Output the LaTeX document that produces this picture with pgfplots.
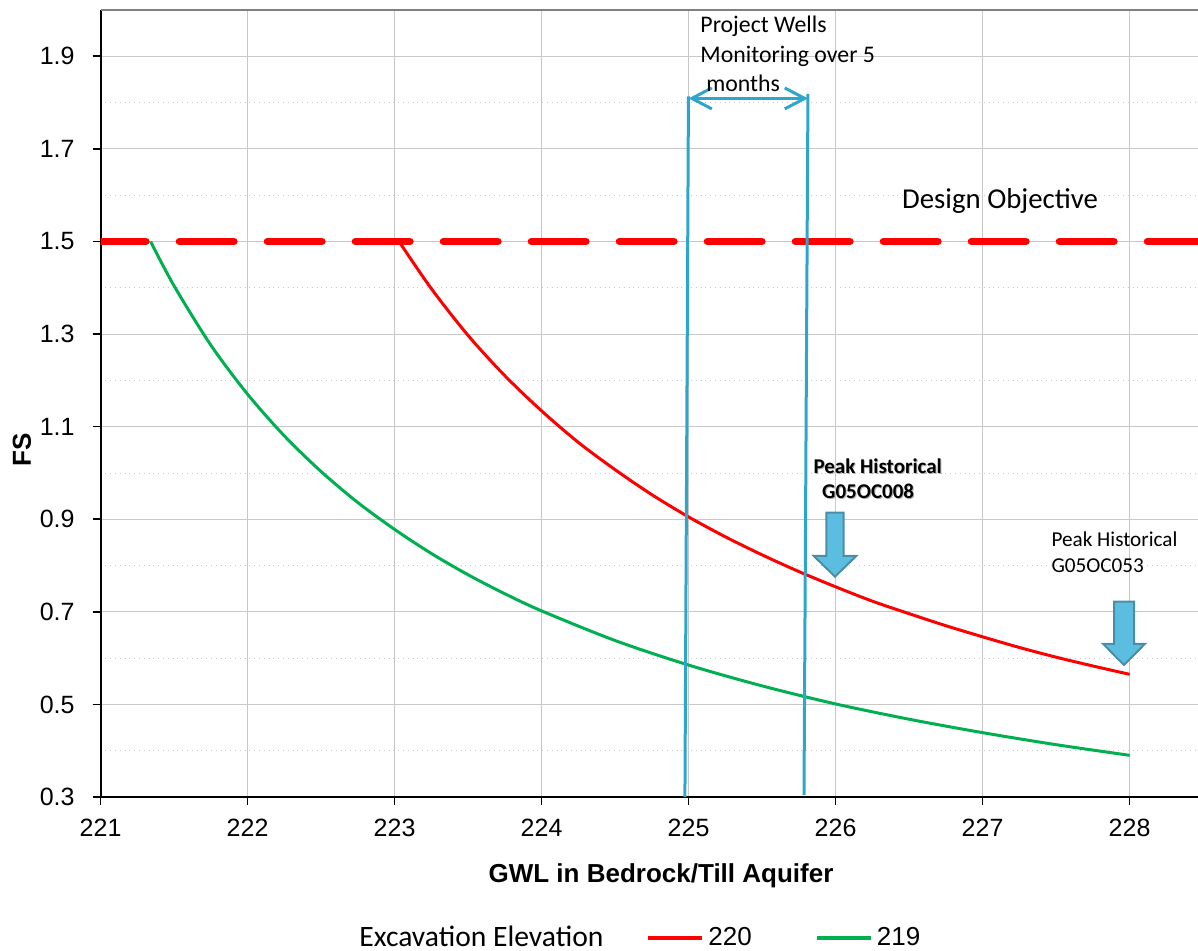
\documentclass[border=0pt]{standalone}
\usepackage{pgfplots}
\pgfplotsset{compat=1.18}
\usepackage{fontspec}
\setmainfont{Carlito}
\newfontfamily\arialfont{Liberation Sans}
\usetikzlibrary{arrows.meta}
\definecolor{exred}{RGB}{255,0,0}
\definecolor{exgreen}{RGB}{0,176,80}
\definecolor{wellblue}{RGB}{46,166,204}
\definecolor{arrowfill}{RGB}{91,189,224}
\definecolor{arrowedge}{RGB}{74,142,166}
\definecolor{gridgray}{RGB}{200,200,200}
\definecolor{topgray}{RGB}{128,128,128}

\pgfplotstableread{
x y
223.03 1.500
223.25 1.398
223.50 1.297
223.75 1.210
224.00 1.134
224.25 1.066
224.50 1.007
224.75 0.953
225.00 0.905
225.25 0.862
225.50 0.823
225.75 0.787
226.00 0.754
226.25 0.723
226.50 0.696
226.75 0.670
227.00 0.646
227.25 0.623
227.50 0.602
227.75 0.583
228.00 0.565
}\redtable

\pgfplotstableread{
x y
221.34 1.500
221.50 1.404
221.75 1.276
222.00 1.170
222.25 1.080
222.50 1.003
222.75 0.936
223.00 0.878
223.25 0.826
223.50 0.780
223.75 0.739
224.00 0.702
224.50 0.638
225.00 0.585
225.50 0.540
226.00 0.501
226.50 0.468
227.00 0.439
227.50 0.413
228.00 0.390
}\greentable

\begin{document}
\begin{tikzpicture}
\useasboundingbox (-50.3pt,-77pt) rectangle (548.7pt,398.5pt);
\begin{axis}[
  at={(0pt,0pt)}, anchor=south west,
  scale only axis, width=551.25pt, height=393.5pt,
  xmin=221, xmax=228.5, ymin=0.3, ymax=2.0,
  xtick={221,222,223,224,225,226,227,228},
  ytick={0.3,0.5,0.7,0.9,1.1,1.3,1.5,1.7,1.9},
  minor ytick={0.4,0.6,0.8,1.0,1.2,1.4,1.6,1.8},
  xmajorgrids, ymajorgrids, yminorgrids,
  major grid style={gridgray, line width=0.5pt},
  minor grid style={gridgray, line width=0.4pt, dotted},
  axis x line*=bottom, axis y line*=left,
  axis line style={black, line width=1pt, -},
  tick align=outside,
  major tick length=4pt, minor tick length=0pt,
  tick style={black, line width=0.8pt},
  /pgf/number format/assume math mode=true,
  ticklabel style={font=\arialfont\fontsize{12.5}{14}\selectfont},
  yticklabel style={/pgf/number format/.cd, fixed, fixed zerofill, precision=1, /tikz/.cd, xshift=-5.5pt},
  xticklabel style={/pgf/number format/.cd, fixed, precision=0, /tikz/.cd, yshift=-3.5pt},
  xlabel={GWL in Bedrock/Till Aquifer},
  ylabel={FS},
  xlabel style={font=\arialfont\bfseries\fontsize{13}{15}\selectfont, at={(axis description cs:0.5083,-0.1004)}, anchor=center},
  ylabel style={font=\arialfont\bfseries\fontsize{13}{15}\selectfont, at={(axis description cs:-0.0713,0.441)}, anchor=center, rotate=0},
  legend columns=3,
  legend style={draw=none, fill=none, inner sep=0pt,
    at={(axis description cs:0.2353,-0.1792)}, anchor=west, xshift=-2.5pt,
    font=\arialfont\fontsize{13}{15}\selectfont,
    /tikz/every even column/.append style={column sep=19.5pt}},
  legend cell align=left,
  legend image code/.code={\draw[#1, line width=2pt] (0pt,0pt) -- (27pt,0pt);},
]
\addlegendimage{empty legend}
\addlegendentry{{\rmfamily\fontsize{14.8}{17}\selectfont Excavation Elevation}}

\addplot[exred, line width=3.7pt, dash pattern=on 27.3pt off 16.7pt, dash phase=4.6pt, line cap=round, forget plot]
  coordinates {(221,1.5) (228.5,1.5)};

\addplot[exred, line width=1.5pt, smooth] table[x=x, y=y] {\redtable};
\addlegendentry{220\hspace*{10pt}}
\addplot[exgreen, line width=1.5pt, smooth] table[x=x, y=y] {\greentable};
\addlegendentry{219}

\addplot[wellblue, line width=1.5pt, forget plot] coordinates {(224.975,0.297) (224.999,1.8135)};
\addplot[wellblue, line width=1.5pt, forget plot] coordinates {(225.785,0.304) (225.812,1.819)};
\addplot[wellblue, line width=1.5pt, forget plot, {Straight Barb[length=10pt,width=10.5pt]}-{Straight Barb[length=10pt,width=10.5pt]}]
  coordinates {(225.0,1.809) (225.812,1.809)};

\draw[topgray, line width=1.2pt] (rel axis cs:0,1) -- (rel axis cs:1,1);

\node[anchor=base west, inner sep=0pt, font=\fontsize{11.9}{14}\selectfont] at (axis cs:225.078,1.952) {Project Wells};
\node[anchor=base west, inner sep=0pt, font=\fontsize{11.9}{14}\selectfont] at (axis cs:225.078,1.887) {Monitoring over 5};
\node[anchor=base west, inner sep=0pt, font=\fontsize{11.9}{14}\selectfont] at (axis cs:225.118,1.824) {months};

\node[anchor=base west, inner sep=0pt, font=\fontsize{14.4}{17}\selectfont] at (axis cs:226.45,1.571) {Design Objective};

\node[anchor=base west, inner sep=0pt, font=\bfseries\fontsize{10.5}{12}\selectfont, text=gray!60, xshift=0.5pt, yshift=-0.5pt] at (axis cs:225.847,0.998) {Peak Historical};
\node[anchor=base west, inner sep=0pt, font=\bfseries\fontsize{10.5}{12}\selectfont, text=gray!60, xshift=0.5pt, yshift=-0.5pt] at (axis cs:225.906,0.944) {G05OC008};
\node[anchor=base west, inner sep=0pt, font=\bfseries\fontsize{10.5}{12}\selectfont] at (axis cs:225.847,0.998) {Peak Historical};
\node[anchor=base west, inner sep=0pt, font=\bfseries\fontsize{10.5}{12}\selectfont] at (axis cs:225.906,0.944) {G05OC008};

\node[anchor=base west, inner sep=0pt, font=\fontsize{10.6}{12}\selectfont] at (axis cs:227.466,0.8405) {Peak Historical};
\node[anchor=base west, inner sep=0pt, font=\fontsize{10.6}{12}\selectfont] at (axis cs:227.466,0.7843) {G05OC053};

\filldraw[fill=arrowfill, draw=arrowedge, line width=1pt]
  (axis cs:225.938,0.914) -- (axis cs:226.054,0.914) -- (axis cs:226.054,0.821) -- (axis cs:226.142,0.821)
  -- (axis cs:225.996,0.776) -- (axis cs:225.850,0.821) -- (axis cs:225.938,0.821) -- cycle;
\filldraw[fill=arrowfill, draw=arrowedge, line width=1pt]
  (axis cs:227.894,0.722) -- (axis cs:228.030,0.722) -- (axis cs:228.030,0.631) -- (axis cs:228.105,0.631)
  -- (axis cs:227.962,0.585) -- (axis cs:227.819,0.631) -- (axis cs:227.894,0.631) -- cycle;
\end{axis}
\end{tikzpicture}
\end{document}
